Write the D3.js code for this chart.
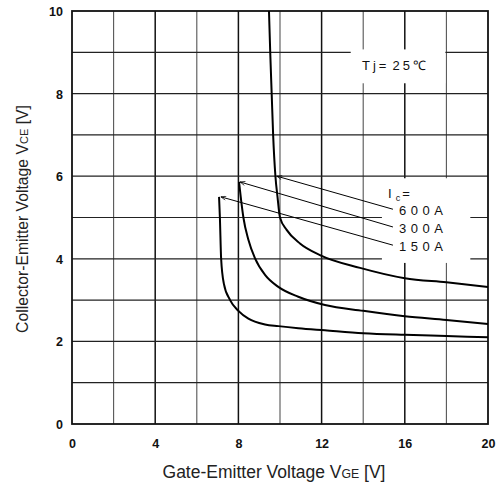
<!DOCTYPE html>
<html>
<head>
<meta charset="utf-8">
<script src="https://cdn.jsdelivr.net/npm/d3@7"></script>
<style>
  html, body { margin: 0; padding: 0; background: #fff; }
  svg { display: block; }
  text { font-family: "Liberation Sans", Arial, Helvetica, sans-serif; }
</style>
</head>
<body>
<div id="chart"></div>
<script>
// ---- data ----
const vge600 = [9.47, 9.53, 9.6, 9.67, 9.78, 9.88, 10.0, 10.32, 10.96, 11.92, 13.85, 16, 18, 20];
const vce600 = [10, 9, 8, 7, 6, 5.5, 5.0, 4.7, 4.37, 4.09, 3.78, 3.53, 3.43, 3.32];

const vge300 = [8.03, 8.13, 8.24, 8.48, 8.8, 9.28, 9.92, 10.88, 12.16, 14, 16, 18, 20];
const vce300 = [5.86, 5.42, 5.0, 4.46, 4.01, 3.61, 3.32, 3.08, 2.88, 2.74, 2.61, 2.52, 2.42];

const vge150 = [7.07, 7.11, 7.17, 7.3, 7.6, 8.0, 8.48, 9.28, 9.92, 10.88, 12.16, 14, 16, 18, 20];
const vce150 = [5.5, 5.0, 4.0, 3.4, 3.0, 2.74, 2.55, 2.41, 2.37, 2.32, 2.27, 2.2, 2.16, 2.13, 2.1];

const seriesLabels = ["600A", "300A", "150A"];
const arrowTipVge = [9.85, 8.08, 7.16];
const arrowTipVce = [6.0, 5.86, 5.5];
const arrowTailVge = [15.43, 15.43, 15.43];
const arrowTailVce = [5.2, 4.77, 4.33];

const xTicks = [0, 4, 8, 12, 16, 20];
const yTicks = [0, 2, 4, 6, 8, 10];
const xGrid = [2, 4, 6, 8, 10, 12, 14, 16, 18];
const yGrid = [1, 2, 3, 4, 5, 6, 7, 8, 9];

// ---- layout ----
const W = 502, H = 489;
const L = 72, R = 488, T = 11, B = 424;

const svg = d3.select("#chart").append("svg").attr("width", W).attr("height", H);

const x = d3.scaleLinear().domain([0, 20]).range([L, R]);
const y = d3.scaleLinear().domain([0, 10]).range([B, T]);

// grid
const grid = svg.append("g");
grid.selectAll("line.v").data(xGrid).join("line")
  .attr("x1", d => x(d)).attr("x2", d => x(d))
  .attr("y1", T).attr("y2", B)
  .attr("stroke", d => d % 4 === 0 ? "#111" : "#555")
  .attr("stroke-width", d => d % 4 === 0 ? 1.5 : 1.1);
grid.selectAll("line.h").data(yGrid).join("line")
  .attr("x1", L).attr("x2", R)
  .attr("y1", d => y(d)).attr("y2", d => y(d))
  .attr("stroke", "#222").attr("stroke-width", 1.2);

// white label backgrounds (breaking the grid as in the reference)
svg.append("rect").attr("x", x(13.4)).attr("y", y(9.07))
  .attr("width", x(17.95) - x(13.4)).attr("height", y(8.25) - y(9.07)).attr("fill", "#fff");
svg.append("rect").attr("x", x(14.9)).attr("y", y(5.95))
  .attr("width", x(19.15) - x(14.9)).attr("height", y(3.9) - y(5.95)).attr("fill", "#fff");

// frame
svg.append("rect").attr("x", L).attr("y", T).attr("width", R - L).attr("height", B - T)
  .attr("fill", "none").attr("stroke", "#111").attr("stroke-width", 1.8);

// axes (labels only)
const xAxis = d3.axisBottom(x).tickValues(xTicks).tickSize(0).tickPadding(0).tickFormat(d3.format("d"));
const gx = svg.append("g").attr("transform", `translate(0,${B})`).call(xAxis);
gx.select(".domain").remove();
gx.selectAll("text").attr("dy", null).attr("y", 24)
  .attr("font-size", 12.5).attr("font-weight", "bold").attr("fill", "#111")
  .attr("font-family", "Liberation Sans, Arial, sans-serif");

const yAxis = d3.axisLeft(y).tickValues(yTicks).tickSize(0).tickPadding(0).tickFormat(d3.format("d"));
const gy = svg.append("g").attr("transform", `translate(${L - 9},0)`).call(yAxis);
gy.select(".domain").remove();
gy.selectAll("text").attr("x", 0).attr("dy", "0.36em")
  .attr("font-size", 12.5).attr("font-weight", "bold").attr("fill", "#111")
  .attr("font-family", "Liberation Sans, Arial, sans-serif");

// curves
const line = d3.line().x(d => x(d[0])).y(d => y(d[1])).curve(d3.curveMonotoneX);
const curves = [
  d3.zip(vge600, vce600),
  d3.zip(vge300, vce300),
  d3.zip(vge150, vce150)
];
svg.selectAll("path.curve").data(curves).join("path")
  .attr("class", "curve")
  .attr("d", line)
  .attr("fill", "none").attr("stroke", "#000").attr("stroke-width", 2);

// arrow marker
svg.append("defs").append("marker")
  .attr("id", "arr").attr("viewBox", "0 0 10 10").attr("refX", 0).attr("refY", 5)
  .attr("markerWidth", 11).attr("markerHeight", 5).attr("markerUnits", "userSpaceOnUse")
  .attr("orient", "auto")
  .append("path").attr("d", "M10,1 L0,5 L10,9").attr("fill", "none").attr("stroke", "#000").attr("stroke-width", 1.4);

// leader lines
svg.selectAll("line.lead").data(seriesLabels).join("line")
  .attr("x1", (d, i) => x(arrowTipVge[i])).attr("y1", (d, i) => y(arrowTipVce[i]))
  .attr("x2", (d, i) => x(arrowTailVge[i])).attr("y2", (d, i) => y(arrowTailVce[i]))
  .attr("stroke", "#000").attr("stroke-width", 1)
  .attr("marker-start", "url(#arr)");

// labels
const lab = svg.append("g").attr("font-size", 13).attr("fill", "#111");
lab.selectAll("text.ser").data(seriesLabels).join("text")
  .attr("x", (d, i) => x(arrowTailVge[i]) + 6)
  .attr("y", (d, i) => y(arrowTailVce[i]) + 6)
  .attr("letter-spacing", 4.5)
  .text(d => d);

const ic = lab.append("text").attr("x", 388).attr("y", 198);
ic.append("tspan").text("I");
ic.append("tspan").attr("font-size", 9).attr("dx", 4).attr("dy", 3).text("c");
ic.append("tspan").attr("dx", 2).attr("dy", -3).text("=");

const tj = lab.append("text").attr("x", 362).attr("y", 70);
tj.append("tspan").attr("letter-spacing", 3).text("Tj=");
tj.append("tspan").attr("dx", 3).attr("letter-spacing", 3).text("25℃");

// axis titles
function fitWidth(sel, target) {
  const w = sel.node().getComputedTextLength();
  const fs = parseFloat(sel.attr("font-size"));
  const k = target / w;
  sel.attr("font-size", fs * k);
  sel.selectAll("tspan.sub").attr("font-size", 10.5 * k);
}
const xt = svg.append("text").attr("x", 274).attr("y", 478).attr("text-anchor", "middle")
  .attr("font-size", 15).attr("fill", "#222");
xt.append("tspan").text("Gate-Emitter Voltage V");
xt.append("tspan").attr("class", "sub").attr("font-size", 10.5).text("GE");
xt.append("tspan").text(" [V]");
fitWidth(xt, 223);

const yt = svg.append("text").attr("transform", "translate(28,219) rotate(-90)")
  .attr("text-anchor", "middle").attr("font-size", 15).attr("fill", "#222");
yt.append("tspan").text("Collector-Emitter Voltage V");
yt.append("tspan").attr("class", "sub").attr("font-size", 10.5).text("CE");
yt.append("tspan").text(" [V]");
fitWidth(yt, 228);
</script>
</body>
</html>
